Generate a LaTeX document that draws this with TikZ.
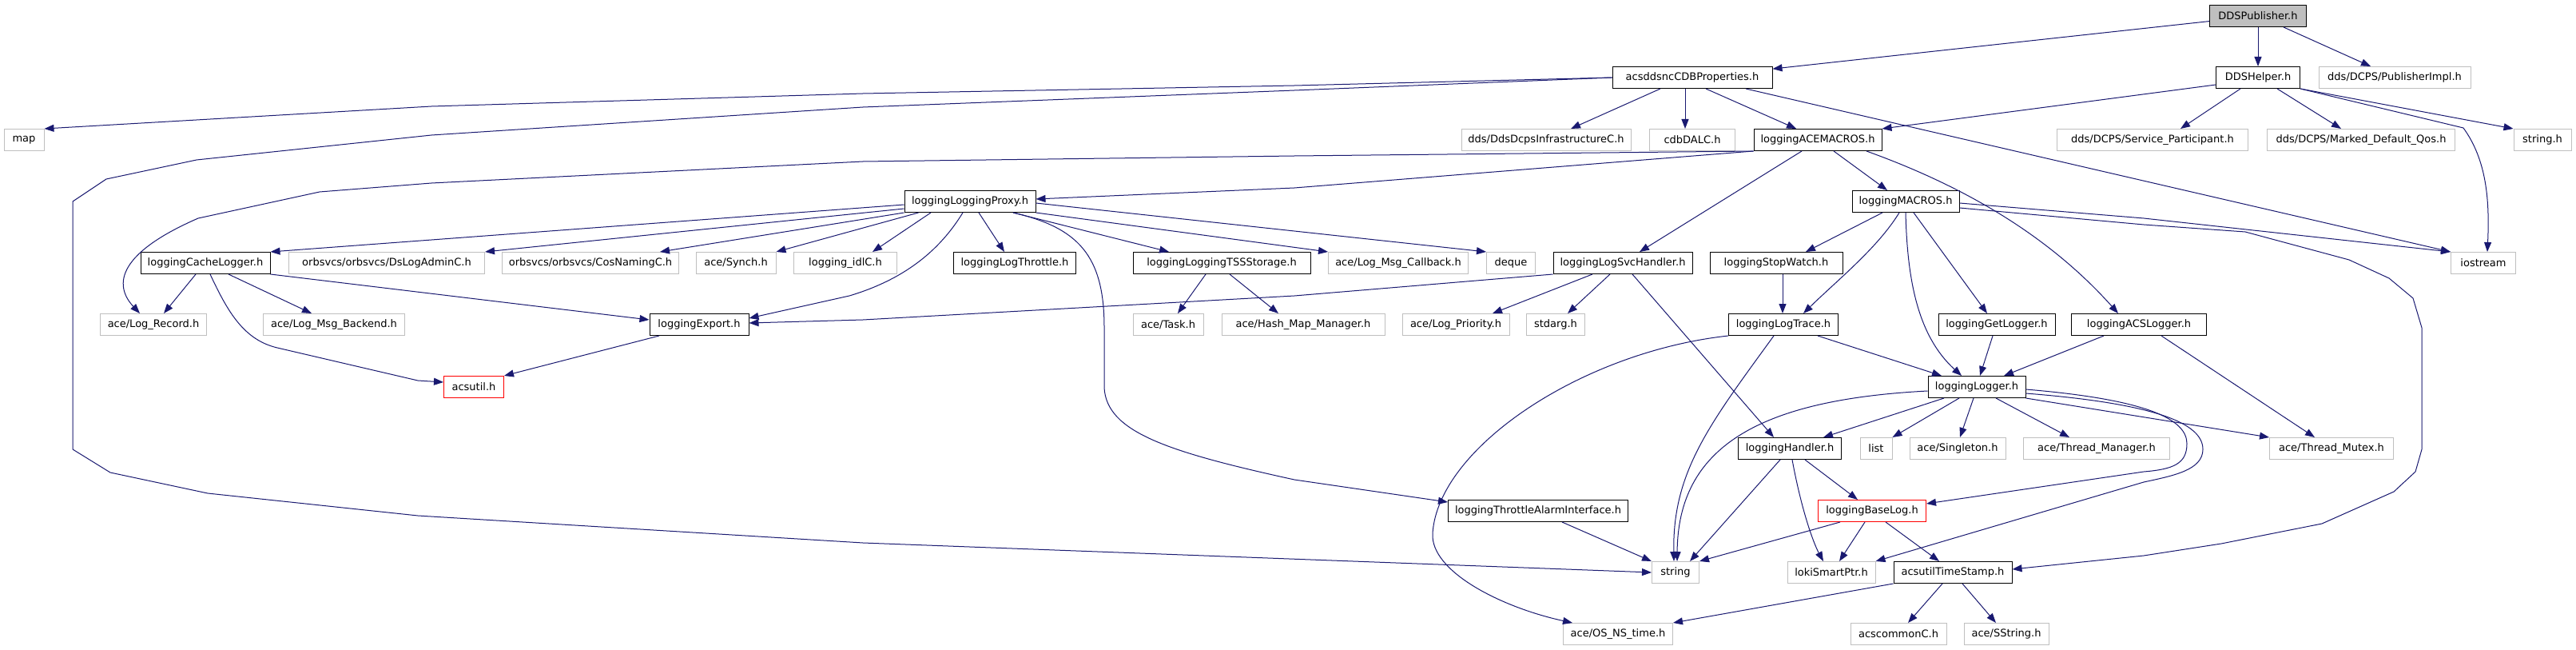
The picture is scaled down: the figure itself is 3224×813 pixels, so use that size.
\documentclass[tikz,border=0pt]{standalone}
\usepackage{fontspec}
\setmainfont{DejaVu Sans}
\usetikzlibrary{arrows.meta}
\definecolor{edgeblue}{HTML}{191970}
\definecolor{extgray}{HTML}{BFBFBF}

\begin{document}
\begin{tikzpicture}[x=1pt, y=-1pt,
  every node/.style={font=\fontsize{13}{15}\selectfont, inner sep=0pt, minimum height=27pt, line width=1pt},
  doc/.style={draw=black, minimum width=#1},
  ext/.style={draw=extgray, minimum width=#1},
  bad/.style={draw=red, minimum width=#1},
  dep/.style={draw=edgeblue, line width=1pt, -{Triangle[length=12pt,width=9pt]}}]
\useasboundingbox (0,0) rectangle (3224,813);

\node[doc=121, fill=extgray] (dp) at (2826,20) {DDSPublisher.h};

\node[doc=200] (cdbp) at (2118,97) {acsddsncCDBProperties.h};
\node[doc=105] (dh) at (2826,97) {DDSHelper.h};
\node[ext=190] (pimpl) at (2997,97) {dds/DCPS/PublisherImpl.h};

\node[ext=50] (map) at (30,175) {map};
\node[ext=212] (infra) at (1935,175) {dds/DdsDcpsInfrastructureC.h};
\node[ext=107] (dalc) at (2118,175) {cdbDALC.h};
\node[doc=160] (acemacros) at (2275,175) {loggingACEMACROS.h};
\node[ext=239] (svcpart) at (2694,175) {dds/DCPS/Service\_Participant.h};
\node[ext=235] (qos) at (2955,175) {dds/DCPS/Marked\_Default\_Qos.h};
\node[ext=72] (stringh) at (3182,175) {string.h};

\node[doc=164] (proxy) at (1214,252) {loggingLoggingProxy.h};
\node[doc=134] (macros) at (2385,252) {loggingMACROS.h};

\node[doc=162] (cache) at (257,329) {loggingCacheLogger.h};
\node[ext=245] (dslog) at (484,329) {orbsvcs/orbsvcs/DsLogAdminC.h};
\node[ext=221] (cosnaming) at (739,329) {orbsvcs/orbsvcs/CosNamingC.h};
\node[ext=100] (synch) at (921,329) {ace/Synch.h};
\node[ext=129] (idl) at (1058,329) {logging\_idlC.h};
\node[doc=153] (throttle) at (1270,329) {loggingLogThrottle.h};
\node[doc=222] (tss) at (1529,329) {loggingLoggingTSSStorage.h};
\node[ext=175] (callback) at (1750,329) {ace/Log\_Msg\_Callback.h};
\node[ext=61] (deque) at (1891,329) {deque};
\node[doc=174] (svch) at (2031,329) {loggingLogSvcHandler.h};
\node[doc=166] (stopwatch) at (2223,329) {loggingStopWatch.h};
\node[ext=81] (iostream) at (3108,329) {iostream};

\node[ext=133] (logrecord) at (192,406) {ace/Log\_Record.h};
\node[ext=177] (backend) at (418,406) {ace/Log\_Msg\_Backend.h};
\node[doc=124] (export) at (875,406) {loggingExport.h};
\node[ext=88] (task) at (1462,406) {ace/Task.h};
\node[ext=204] (hashmap) at (1631,406) {ace/Hash\_Map\_Manager.h};
\node[ext=134] (priority) at (1822,406) {ace/Log\_Priority.h};
\node[ext=73] (stdarg) at (1947,406) {stdarg.h};
\node[doc=137] (trace) at (2232,406) {loggingLogTrace.h};
\node[doc=146] (getlogger) at (2499,406) {loggingGetLogger.h};
\node[doc=169] (acslogger) at (2677,406) {loggingACSLogger.h};

\node[bad=75] (acsutil) at (593,484) {acsutil.h};
\node[doc=122] (logger) at (2474,484) {loggingLogger.h};

\node[doc=129] (handler) at (2240,561) {loggingHandler.h};
\node[ext=40] (list) at (2348,561) {list};
\node[ext=120] (singleton) at (2450,561) {ace/Singleton.h};
\node[ext=183] (threadmgr) at (2624,561) {ace/Thread\_Manager.h};
\node[ext=155] (mutex) at (2918,561) {ace/Thread\_Mutex.h};

\node[doc=225] (alarm) at (1925,639) {loggingThrottleAlarmInterface.h};
\node[bad=135] (baselog) at (2343,639) {loggingBaseLog.h};

\node[ext=59] (string) at (2097,716) {string};
\node[ext=110] (loki) at (2292,716) {lokiSmartPtr.h};
\node[doc=148] (timestamp) at (2444,716) {acsutilTimeStamp.h};

\node[ext=137] (ostime) at (2025,793) {ace/OS\_NS\_time.h};
\node[ext=120] (acscommon) at (2376,793) {acscommonC.h};
\node[ext=106] (sstring) at (2511,793) {ace/SString.h};

\draw[dep] (dp) -- (cdbp);
\draw[dep] (dp) -- (dh);
\draw[dep] ([xshift=32]dp.south) -- ([xshift=-30]pimpl.north);

\draw[dep] (cdbp.west) -- (1620,107) -- (1080,117) -- (540,133) -- (map.north east);
\draw[dep] (cdbp.west) -- (1620,113) -- (1080,134) -- (540,169) -- (246,200) -- (133,224) -- (91,252) -- (91,562) -- (138,591) -- (260,617) -- (523,645) -- (1080,679) -- (string.west);
\draw[dep] ([xshift=-40]cdbp.south) -- ([xshift=31]infra.north);
\draw[dep] ([xshift=-9]cdbp.south) -- ([xshift=-9]dalc.north);
\draw[dep] ([xshift=17]cdbp.south) -- ([xshift=-27]acemacros.north);
\draw[dep] ([xshift=67]cdbp.south) -- (iostream.north west);

\draw[dep] ([yshift=-9]dh.west) -- (acemacros.north east);
\draw[dep] ([xshift=-22]dh.south) -- ([xshift=35]svcpart.north);
\draw[dep] ([xshift=24]dh.south) -- ([xshift=-25]qos.north);
\draw[dep] (dh.south east) -- (stringh.north west);
\draw[dep] (dh.south east) -- (3083,160) .. controls (3112,200) and (3116,250) .. ([xshift=5]iostream.north);

\draw[dep] (acemacros.south west) -- (1620,235) -- ([yshift=3]proxy.east);
\draw[dep] (acemacros.south west) -- (1620,195) -- (1080,202) -- (540,229) -- (400,240) -- (248,273) .. controls (140,320) and (145,360) .. ([xshift=-17]logrecord.north);
\draw[dep] ([xshift=-20]acemacros.south) -- ([xshift=21]svch.north);
\draw[dep] ([xshift=20]acemacros.south) -- ([xshift=-23]macros.north);
\draw[dep] ([xshift=61]acemacros.south) .. controls (2450,230) and (2560,290) .. ([xshift=-26]acslogger.north);

\draw[dep] ([yshift=-4]proxy.west) -- (cache.north east);
\draw[dep] ([yshift=-9]proxy.west) -- (dslog.north east);
\draw[dep] (proxy.south west) -- ([xshift=87]cosnaming.north);
\draw[dep] ([xshift=18]proxy.south west) -- (synch.north east);
\draw[dep] ([xshift=-49]proxy.south) -- ([xshift=34]idl.north);
\draw[dep] ([xshift=11]proxy.south) -- ([xshift=-13]throttle.north);
\draw[dep] ([xshift=54]proxy.south) -- ([xshift=-66]tss.north);
\draw[dep] (proxy.south east) -- (callback.north west);
\draw[dep] ([yshift=-2]proxy.east) -- (deque.north west);
\draw[dep] ([xshift=-9]proxy.south) .. controls (1175,315) and (1130,350) .. (1063,370) -- ([yshift=8]export.east);
\draw[dep] ([xshift=54]proxy.south) .. controls (1350,285) and (1382,320) .. (1382,410) -- (1382,485) .. controls (1385,540) and (1460,565) .. (1620,600) -- ([yshift=11]alarm.west);

\draw[dep] ([xshift=-12]cache.south) -- ([xshift=13]logrecord.north);
\draw[dep] ([xshift=29]cache.south) -- ([xshift=-28]backend.north);
\draw[dep] ([xshift=6]cache.south) .. controls (285,390) and (305,425) .. (347,435) -- (523,476) -- ([yshift=6]acsutil.west);
\draw[dep] (cache.south east) -- ([yshift=6]export.west);

\draw[dep] ([xshift=-50]export.south) -- (acsutil.north east);

\draw[dep] (svch.south west) -- (1620,370) -- (1080,400) -- ([yshift=2]export.east);
\draw[dep] ([xshift=-38]svch.south) -- ([xshift=46]priority.north);
\draw[dep] ([xshift=-16]svch.south) -- ([xshift=15]stdarg.north);
\draw[dep] ([xshift=12]svch.south) -- ([xshift=-20]handler.north);

\draw[dep] ([xshift=-20]tss.south) -- ([xshift=12]task.north);
\draw[dep] ([xshift=10]tss.south) -- ([xshift=-31]hashmap.north);

\draw[dep] ([xshift=-29]macros.south) -- ([xshift=37]stopwatch.north);
\draw[dep] ([xshift=-8]macros.south) .. controls (2350,310) and (2300,350) .. ([xshift=25]trace.north);
\draw[dep] (macros.south) .. controls (2387,350) and (2400,420) .. ([xshift=-19]logger.north);
\draw[dep] ([xshift=10]macros.south) -- ([xshift=-12]getlogger.north);
\draw[dep] ([yshift=-2]macros.east) -- (2683,273) -- (iostream.north west);
\draw[dep] ([yshift=-8]macros.east) -- (2683,281) -- (2810,290) -- (2940,325) -- (2990,348) -- (3020,373) -- (3031,410) -- (3031,562) -- (3023,590) -- (2996,615) -- (2906,655) -- (2780,680) -- (2683,695) -- ([yshift=4]timestamp.east);

\draw[dep] ([xshift=8]stopwatch.south) -- ([xshift=-1]trace.north);

\draw[dep] ([xshift=43]trace.south) -- ([xshift=-44]logger.north);
\draw[dep] ([xshift=-12]trace.south) .. controls (2140,530) and (2093,590) .. ([xshift=-2]string.north);
\draw[dep] (trace.south west) .. controls (1980,440) and (1800,560) .. (1793,667) .. controls (1790,715) and (1880,760) .. ([xshift=-57]ostime.north);

\draw[dep] ([xshift=-5]getlogger.south) -- ([xshift=4]logger.north);
\draw[dep] ([xshift=-44]acslogger.south) -- ([xshift=34]logger.north);
\draw[dep] ([xshift=28]acslogger.south) -- ([xshift=-21]mutex.north);

\draw[dep] ([xshift=-41]logger.south) -- ([xshift=42]handler.north);
\draw[dep] ([xshift=-22]logger.south) -- (list.north east);
\draw[dep] ([xshift=-4]logger.south) -- ([xshift=3]singleton.north);
\draw[dep] ([xshift=24]logger.south) -- ([xshift=-34]threadmgr.north);
\draw[dep] (logger.south east) -- (mutex.north west);
\draw[dep] ([yshift=-3]logger.east) .. controls (2690,500) and (2737,525) .. (2737,555) .. controls (2737,580) and (2720,587) .. (2683,590) -- ([yshift=9]baselog.east);
\draw[dep] ([yshift=-8]logger.east) .. controls (2700,505) and (2757,530) .. (2757,562) .. controls (2757,588) and (2720,595) .. (2683,603) -- (loki.north east);
\draw[dep] ([yshift=-5]logger.west) .. controls (2200,500) and (2100,560) .. ([xshift=2]string.north);

\draw[dep] ([xshift=-12]handler.south) -- ([xshift=-12]string.north east);
\draw[dep] ([xshift=3]handler.south) .. controls (2255,640) and (2270,680) .. ([xshift=-10]loki.north);
\draw[dep] ([xshift=19]handler.south) -- ([xshift=-18]baselog.north);

\draw[dep] ([xshift=-40]baselog.south) -- (string.north east);
\draw[dep] ([xshift=-9]baselog.south) -- ([xshift=10]loki.north);
\draw[dep] ([xshift=17]baselog.south) -- ([xshift=-17]timestamp.north);

\draw[dep] (timestamp.south west) -- (ostime.north east);
\draw[dep] ([xshift=-13]timestamp.south) -- ([xshift=12]acscommon.north);
\draw[dep] ([xshift=12]timestamp.south) -- ([xshift=-13]sstring.north);

\draw[dep] ([xshift=30]alarm.south) -- (string.north west);
\end{tikzpicture}
\end{document}
